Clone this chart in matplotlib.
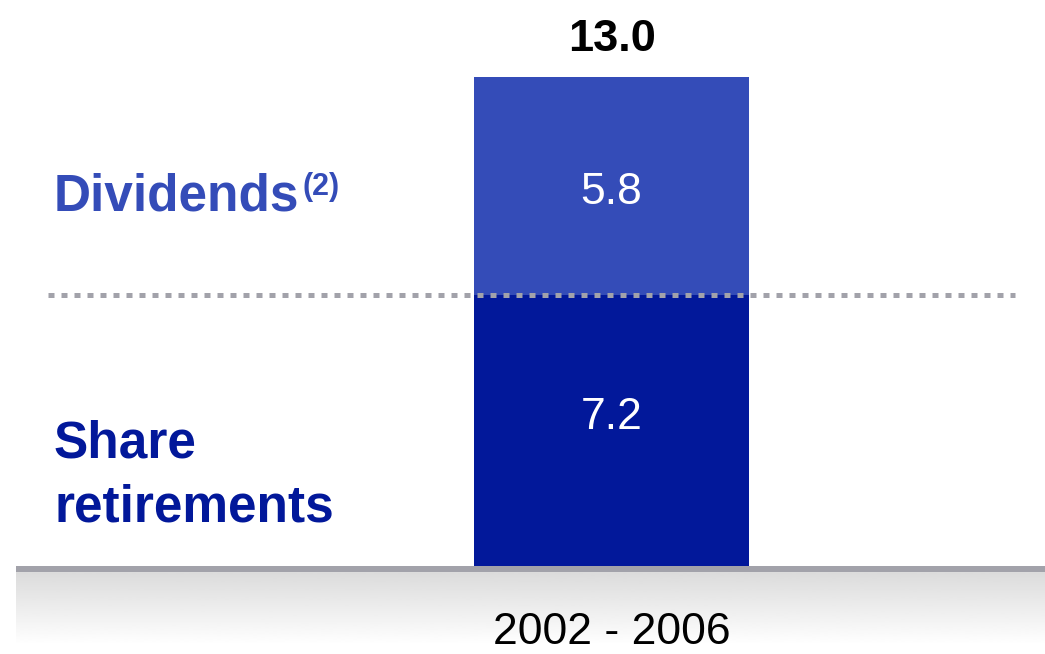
import matplotlib
matplotlib.use("Agg")
import matplotlib.pyplot as plt
import numpy as np

# Dados do gráfico
period = ["2002 - 2006"]
share_retirements = [7.2]
dividends = [5.8]
total = [13.0]

col_div = "#344cb8"
col_ret = "#02189a"
col_grey = "#a2a2aa"

plt.rcParams['font.family'] = ['Liberation Sans', 'DejaVu Sans']

fig = plt.figure(figsize=(10.45, 6.54), dpi=100)
ax = fig.add_axes([0, 0, 1, 1])

# escala: 1 unidade = 37.6 px, base da barra em y=566 px
ax.set_ylim(-2.34, 15.05)
ax.set_xlim(-1.112, 0.788)
ax.axis('off')

x = np.arange(len(period))
w = 0.5
ax.bar(x, share_retirements, width=w, color=col_ret, zorder=2)
ax.bar(x, dividends, width=w, bottom=share_retirements, color=col_div, zorder=2)

# linha pontilhada separando as séries
ax.axhline(share_retirements[0], xmin=0.046, xmax=0.971, color=col_grey,
           lw=3.6, linestyle=(0, (1.2, 1.4)), dash_capstyle='butt', zorder=3)

# linha de base e gradiente
ax.axhspan(-0.16, 0, xmin=0.0153, xmax=1, color=col_grey, lw=0, zorder=3)
grad = np.linspace(0.86, 1.0, 100).reshape(-1, 1)
ax.imshow(grad, cmap='gray', vmin=0, vmax=1, aspect='auto',
          extent=(-1.112 + 0.0153 * 1.9, 0.788, -2.1, -0.16), zorder=1)

# rótulos de valor
for xi, v in zip(x, share_retirements):
    ax.text(xi, v * 0.55, f"{v:.1f}", ha='center', va='center',
            color='white', fontsize=32)
for xi, b, v in zip(x, share_retirements, dividends):
    ax.text(xi, b + v * 0.47, f"{v:.1f}", ha='center', va='center',
            color='white', fontsize=32)
for xi, t in zip(x, total):
    ax.text(xi, t + 0.45, f"{t:.1f}", ha='center', va='bottom',
            color='black', fontsize=32.5, fontweight='bold')

# rótulo do período
for xi, p in zip(x, period):
    ax.text(xi, -1.78, p, ha='center', va='center', fontsize=32)

# legendas à esquerda
fig.text(54 / 1045, 1 - 210 / 654, "Dividends", color=col_div, fontsize=37,
         fontweight='bold', ha='left', va='baseline')
fig.text(302 / 1045, 1 - 195 / 654, "(2)", color=col_div, fontsize=22,
         fontweight='bold', ha='left', va='baseline')
fig.text(54 / 1045, 1 - 458 / 654, "Share", color=col_ret, fontsize=37,
         fontweight='bold', ha='left', va='baseline')
fig.text(54 / 1045, 1 - 522 / 654, "retirements", color=col_ret, fontsize=37,
         fontweight='bold', ha='left', va='baseline')

fig.savefig("out.png", dpi=100)
